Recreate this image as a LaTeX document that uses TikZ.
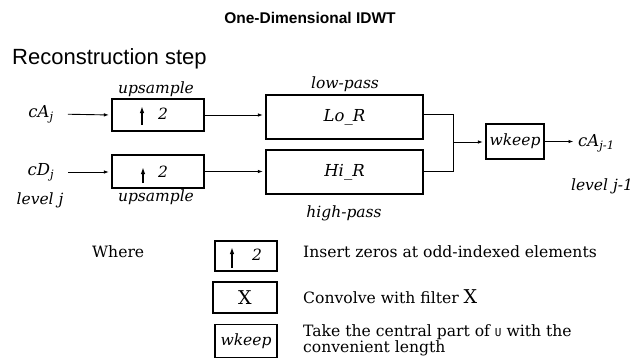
\documentclass[tikz,border=0pt]{standalone}
\usepackage{fontspec}
\setmainfont{DejaVu Serif}
\setmonofont{DejaVu Sans Mono}
\newfontfamily\hsansfam{Liberation Sans}
\usetikzlibrary{arrows.meta,calc}
\newcommand\lblfont{\fontsize{15.6}{14}\selectfont}
\newcommand\itlblfont{\fontsize{15.5}{14}\selectfont\itshape}
\newcommand\titlefnt{\hsansfam\bfseries\fontsize{15.5}{18}\selectfont}
\newcommand\headfnt{\hsansfam\fontsize{22}{24}\selectfont}
\newcommand\bigX{{\fontsize{19}{19}\selectfont X}}
\begin{document}
\begin{tikzpicture}[x=1pt,y=-1pt,
  box/.style={draw, line width=1.1pt, inner sep=0pt, font=\itlblfont},
  lbl/.style={font=\itlblfont, inner sep=2pt},
  txt/.style={font=\lblfont, inner sep=0pt, anchor=west, align=left},
  con/.style={line width=0.9pt, -{Latex[length=5pt,width=3.5pt]}, shorten >=2.5pt},
  wire/.style={line width=0.9pt},
  uparr/.style={line width=1.4pt, -{Latex[length=7pt,width=4.5pt]}}]
\useasboundingbox (0,0) rectangle (644,360);

% titles
\node[font=\titlefnt] (title) at (310,18) {One-Dimensional IDWT};
\node[font=\headfnt, anchor=west, inner sep=0pt] (head) at (12,59) {Reconstruction step};

% boxes
\node[box, minimum width=92pt, minimum height=32pt] (up1) at (158,115) {};
\node[box, minimum width=92pt, minimum height=33pt] (up2) at (158,171.5) {};
\node[box, minimum width=157pt, minimum height=44pt, font=\fontsize{16.5}{16}\selectfont\itshape] (lo) at (344.5,117) {Lo\_R};
\node[box, minimum width=157pt, minimum height=44pt, font=\fontsize{16.5}{16}\selectfont\itshape] (hi) at (344.5,172) {Hi\_R};
\node[box, minimum width=58pt, minimum height=35pt] (wk) at (515,141.5) {wkeep};

% content of upsample boxes
\node[lbl] (two1) at (163,114) {2};
\node[lbl] (two2) at (163,172) {2};
\draw[uparr] ($(up1.center)+(-16,10)$) -- ($(up1.center)+(-16,-9)$);
\draw[uparr] ($(up2.center)+(-15,11.5)$) -- ($(up2.center)+(-15,-4.5)$);

% labels
\node[lbl, font=\fontsize{16.5}{16}\selectfont\itshape] (cAj) at (41,114) {cA\textsubscript{j}};
\node[lbl, font=\fontsize{16.5}{16}\selectfont\itshape] (cDj) at (41,172) {cD\textsubscript{j}};
\node[lbl] (lvj) at (40,200) {level j};
\node[lbl] (ups1) at (156,89) {upsample};
\node[lbl] (ups2) at (156,197) {upsample};
\node[lbl] (lp) at (345,84) {low-pass};
\node[lbl] (hp) at (344,213) {high-pass};
\node[lbl, anchor=west, font=\fontsize{16.5}{16}\selectfont\itshape] (cAj1) at (576,143) {cA\textsubscript{j-1}};
\node[lbl] (lvj1) at (602,186) {level j-1};

% connectors
\coordinate (j) at (453,142);
\draw[con, shorten <=12pt] (cAj.east) -- (up1.west);
\draw[con, shorten <=12pt] (cDj.east) -- (cDj.east -| up2.west);
\draw[con] (up1.east) -- (up1.east -| lo.west);
\draw[con] (up2.east) -- (up2.east -| hi.west);
\draw[wire] ($(lo.east)+(0,-3)$) -- ($(lo.east -| j)+(0,-3)$) -- ($(hi.east -| j)+(0,-1)$) -- ($(hi.east)+(0,-1)$);
\draw[con] (j) -- (j -| wk.west);
\draw[con] (wk.east) -- (wk.east -| cAj1.west);

% legend
\node[txt] (where) at (92,252) {Where};
\node[box, minimum width=62pt, minimum height=30pt] (lg1) at (246,256) {};
\node[lbl] (lg1two) at (257,255) {2};
\draw[uparr] ($(lg1.center)+(-14,12)$) -- ($(lg1.center)+(-14,-9)$);
\node[box, minimum width=64pt, minimum height=31pt, font=\lblfont] (lg2) at (245,297.5) {\bigX};
\node[box, minimum width=62pt, minimum height=33pt] (lg3) at (246,341) {wkeep};
\node[txt] (t1) at (303,252) {Insert zeros at odd-indexed elements};
\node[txt] (t2) at (303,297) {Convolve with filter \bigX};
\node[txt] (t3) at (303,340) {Take the central part of {\ttfamily\fontsize{11}{11}\selectfont U} with the\\convenient length};
\end{tikzpicture}
\end{document}
